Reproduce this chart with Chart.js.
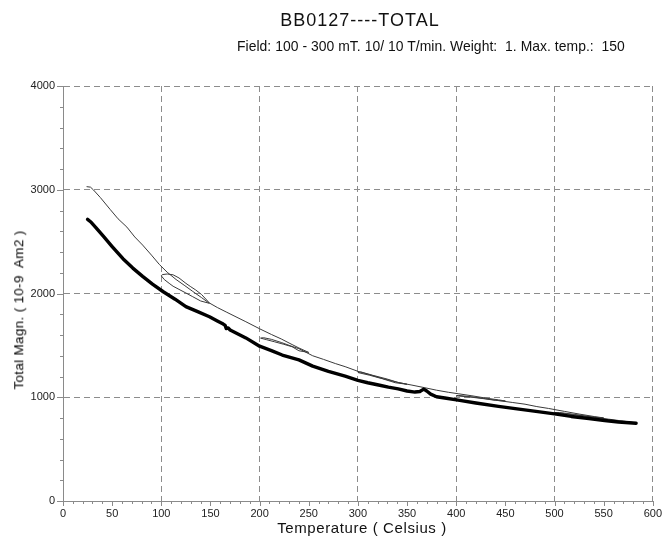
<!DOCTYPE html>
<html><head><meta charset="utf-8">
<script src="https://cdn.jsdelivr.net/npm/chart.js@4/dist/chart.umd.min.js"></script>
<style>
html,body{margin:0;padding:0;background:#fff;}
#wrap{position:relative;width:668px;height:544px;overflow:hidden;}
canvas{position:absolute;left:0;top:0;}
.t{position:absolute;font-family:"Liberation Sans",Arial,sans-serif;color:#111;white-space:pre;line-height:1;}
#title{left:360px;top:11px;font-size:18px;letter-spacing:1px;transform:translateX(-50%);}
#subtitle{left:237px;top:40px;font-size:13.9px;letter-spacing:0.05px;}
#xtitle{left:362px;top:520px;font-size:15px;letter-spacing:0.6px;transform:translateX(-50%);}
#ytitle{left:19px;top:310px;font-size:13.5px;letter-spacing:0.3px;color:#000;transform:translate(-50%,-50%) rotate(-90deg);}
</style></head><body>
<div id="wrap">
<canvas id="c" width="668" height="544"></canvas>
<div class="t" id="title">BB0127----TOTAL</div>
<div class="t" id="subtitle">Field: 100 - 300 mT. 10/ 10 T/min. Weight:  1. Max. temp.:  150</div>
<div class="t" id="xtitle">Temperature ( Celsius )</div>
<div class="t" id="ytitle">Total Magn. ( 10-9  Am2 )</div>
</div>
<script>
// Thin curve: stepwise heating / partial cooling cycles (temperature, magnetization)
const thinTemp = [24,28,31,38,48,56,65,73,81,90,98,106,115,124,132,141,149,
  140,132,125,118,112,108,103,100,101,
  106,112,118,125,130,135,141,149,157,166,176,186,200,212,222,233,240,250,
  240,233,224,215,207,201,
  204,212,222,233,240,254,265,277,287,300,313,326,340,350,
  338,325,312,300,
  303,315,330,341,355,368,380,392,402,416,430,443,450,
  440,428,414,400,
  402,416,430,443,457,470,482,494,510,525,541,550,
  538,524,510,500,
  505,520,541,555,570,580];
const thinMagn = [3030,3025,2998,2925,2810,2720,2640,2545,2467,2370,2280,2205,2135,2075,2020,1960,1905,
  1928,1969,2005,2040,2070,2098,2135,2170,2182,
  2188,2180,2150,2098,2065,2034,1990,1908,1865,1822,1775,1728,1660,1605,1562,1508,1475,1432,
  1448,1487,1512,1535,1555,1570,
  1574,1558,1528,1490,1468,1400,1365,1325,1295,1250,1214,1178,1145,1125,
  1140,1178,1212,1238,
  1244,1212,1175,1142,1117,1092,1068,1048,1034,1014,992,975,964,
  970,986,1002,1014,
  1018,1004,986,968,950,933,910,892,864,838,813,801,
  810,826,843,853,
  853,835,806,789,770,757];

// Thick curve: final cooling run
const thickTemp = [25,28,33,41,50,61,71,81,91,102,114,125,137,149,157,163,165,166,168,170,178,186,200,212,223,240,254,270,287,300,310,321,331,341,350,358,363,367,370,374,380,390,402,420,443,460,483,500,517,535,551,565,583];
const thickMagn = [2715,2692,2640,2552,2452,2335,2245,2165,2090,2017,1945,1873,1825,1776,1735,1705,1692,1662,1668,1648,1610,1572,1492,1450,1407,1360,1300,1250,1203,1163,1140,1118,1097,1080,1060,1050,1055,1078,1060,1030,1005,990,972,945,912,890,862,840,815,795,776,762,750];

// Axis ticks
const xTickValues = [0,50,100,150,200,250,300,350,400,450,500,550,600];
const yTickValues = [0,1000,2000,3000,4000];
const xMinorStep = 10;
const yMinorStep = 200;

const toPoints = (xs, ys) => xs.map((v, i) => ({x: v, y: ys[i]}));
const FONT = '"Liberation Sans", Arial, sans-serif';
const GRID = '#8c8c8c';
const AXIS = '#8a8a8a';

const minorTicks = {
  id: 'minorTicks',
  afterDraw(chart) {
    const {ctx, scales: {x, y}} = chart;
    ctx.save();
    ctx.strokeStyle = AXIS;
    ctx.lineWidth = 1;
    ctx.beginPath();
    for (let v = x.min; v <= x.max; v += xMinorStep) {
      const px = Math.round(x.getPixelForValue(v)) + 0.5;
      const len = xTickValues.includes(v) ? 5 : 3;
      ctx.moveTo(px, Math.round(y.bottom));
      ctx.lineTo(px, Math.round(y.bottom) + len);
    }
    for (let v = y.min; v <= y.max; v += yMinorStep) {
      const py = Math.round(y.getPixelForValue(v)) + 0.5;
      const len = yTickValues.includes(v) ? 6 : 3;
      ctx.moveTo(Math.round(x.left), py);
      ctx.lineTo(Math.round(x.left) - len, py);
    }
    ctx.stroke();
    ctx.restore();
  }
};

new Chart(document.getElementById('c'), {
  type: 'scatter',
  data: {
    datasets: [
      {
        label: 'cooling',
        data: toPoints(thickTemp, thickMagn),
        showLine: true, borderColor: '#000', borderWidth: 3.4,
        pointRadius: 0, tension: 0, borderJoinStyle: 'round', borderCapStyle: 'round', order: 0
      },
      {
        label: 'heating',
        data: toPoints(thinTemp, thinMagn),
        showLine: true, borderColor: '#3a3a3a', borderWidth: 1,
        pointRadius: 0, tension: 0, borderJoinStyle: 'round', order: 1
      }
    ]
  },
  options: {
    responsive: false,
    animation: false,
    layout: {padding: {left: 0, right: 13, top: 86, bottom: 0}},
    plugins: {legend: {display: false}, tooltip: {enabled: false}, title: {display: false}},
    scales: {
      x: {
        type: 'linear', min: 0, max: 600,
        afterBuildTicks: (s) => { s.ticks = xTickValues.map(v => ({value: v})); },
        afterFit: (s) => { s.height = 43; },
        ticks: {font: {family: FONT, size: 11}, color: '#222', padding: 6, maxRotation: 0, autoSkip: false,
                callback: (v) => String(v)},
        grid: {
          color: (c) => (c.tick && c.tick.value % 100 === 0 && c.tick.value > 0) ? GRID : 'rgba(0,0,0,0)',
          drawTicks: false, lineWidth: 1
        },
        border: {display: true, color: AXIS, width: 1, dash: [6, 4]}
      },
      y: {
        type: 'linear', min: 0, max: 4000,
        afterBuildTicks: (s) => { s.ticks = yTickValues.map(v => ({value: v})); },
        afterFit: (s) => { s.width = 63; },
        ticks: {font: {family: FONT, size: 11}, color: '#222', padding: 8,
                callback: (v) => String(v)},
        grid: {
          color: (c) => (c.tick && c.tick.value > 0) ? GRID : 'rgba(0,0,0,0)',
          drawTicks: false, lineWidth: 1
        },
        border: {display: true, color: AXIS, width: 1, dash: [6, 4]}
      }
    }
  },
  plugins: [minorTicks]
});
</script>
</body></html>
